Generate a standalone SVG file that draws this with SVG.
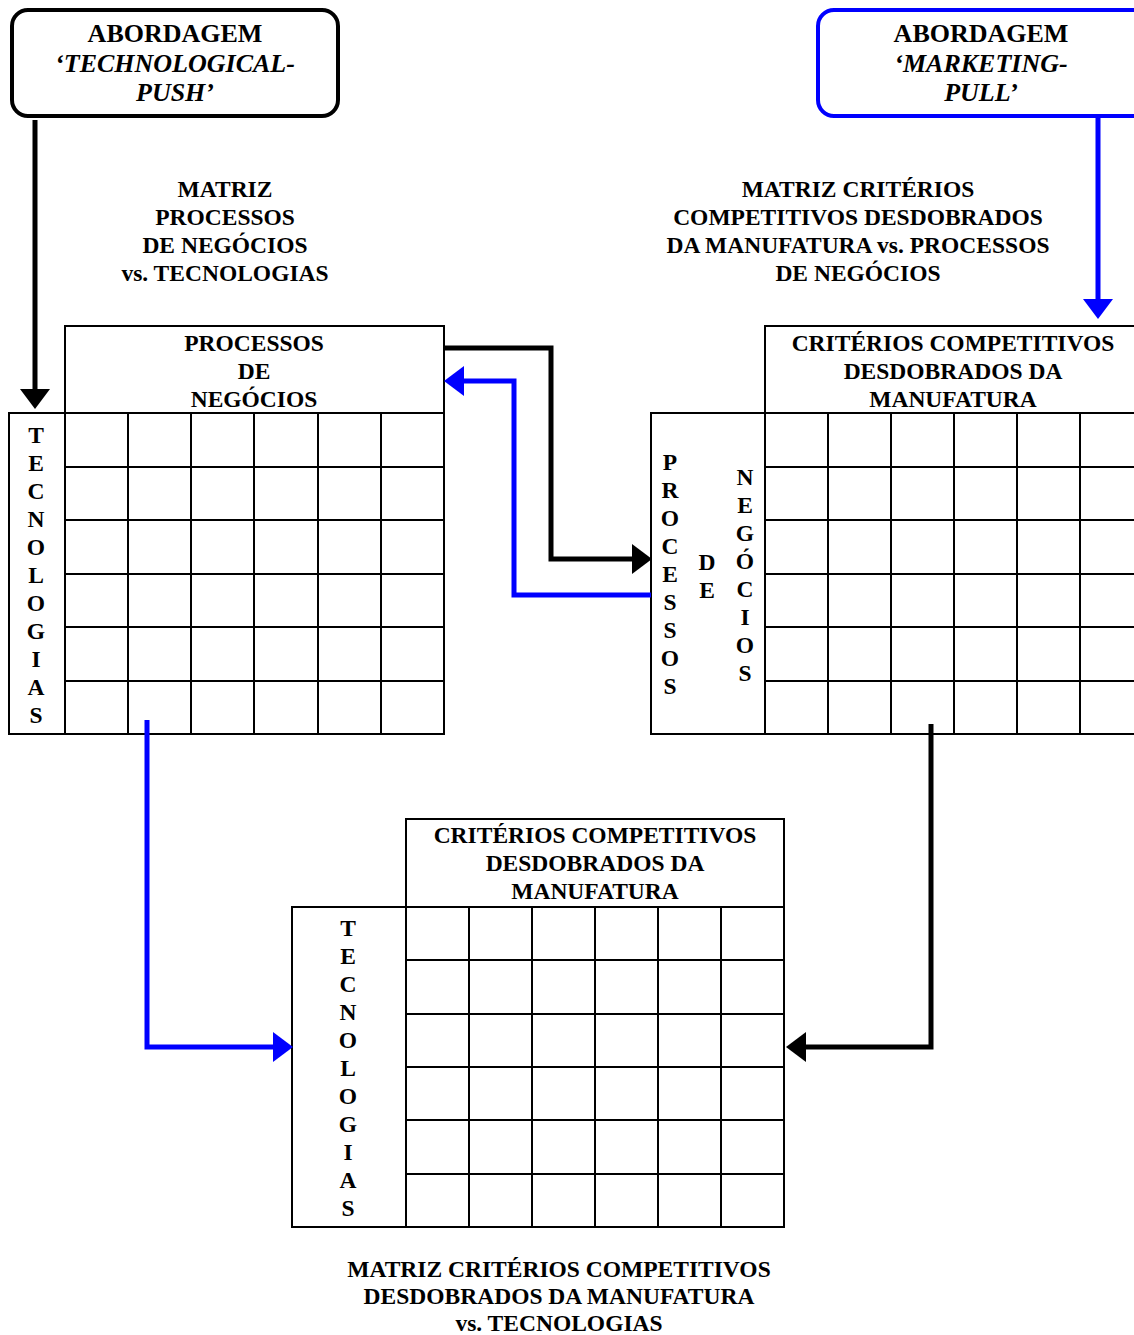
<svg xmlns="http://www.w3.org/2000/svg" width="1134" height="1335" viewBox="0 0 1134 1335">
<style>
text{font-family:"Liberation Serif","Times New Roman",serif;font-weight:bold;fill:#000;text-anchor:middle}
.cap{font-size:23.5px}
.hd{font-size:23.5px}
.vt{font-size:23.5px}
.bx{font-size:26px}
.it{font-style:italic}
.grid{fill:none;stroke:#000;stroke-width:2}
.rb{fill:#fff;stroke:#000;stroke-width:4}
.rbb{fill:#fff;stroke:#0000ff;stroke-width:4}
.ck{fill:none;stroke:#000;stroke-width:5}
.cb{fill:none;stroke:#0000ff;stroke-width:5}
</style>
<defs>
<marker id="ak" markerUnits="userSpaceOnUse" markerWidth="20" markerHeight="30" viewBox="0 0 20 30" refX="0" refY="15" orient="auto"><path d="M0,0 L20,15 L0,30 Z" fill="#000"/></marker>
<marker id="ab" markerUnits="userSpaceOnUse" markerWidth="20" markerHeight="30" viewBox="0 0 20 30" refX="0" refY="15" orient="auto"><path d="M0,0 L20,15 L0,30 Z" fill="#0000ff"/></marker>
</defs>
<rect width="1134" height="1335" fill="#fff"/>

<g id="push">
<rect class="rb" x="12" y="10" width="326" height="106" rx="16"/>
<text class="bx" x="175" y="42">ABORDAGEM</text>
<text class="bx it" x="175" y="72">‘TECHNOLOGICAL-</text>
<text class="bx it" x="175" y="101">PUSH’</text>
</g>

<g id="pull">
<rect class="rbb" x="818" y="10" width="340" height="106" rx="16"/>
<text class="bx" x="981" y="42">ABORDAGEM</text>
<text class="bx it" x="981" y="72">‘MARKETING-</text>
<text class="bx it" x="981" y="101">PULL’</text>
</g>

<g id="caption1">
<text class="cap" x="225" y="197">MATRIZ</text>
<text class="cap" x="225" y="225">PROCESSOS</text>
<text class="cap" x="225" y="253">DE NEGÓCIOS</text>
<text class="cap" x="225" y="281">vs. TECNOLOGIAS</text>
</g>

<g id="caption2">
<text class="cap" x="858" y="197">MATRIZ CRITÉRIOS</text>
<text class="cap" x="858" y="225">COMPETITIVOS DESDOBRADOS</text>
<text class="cap" x="858" y="253">DA MANUFATURA vs. PROCESSOS</text>
<text class="cap" x="858" y="281">DE NEGÓCIOS</text>
</g>

<g id="caption3">
<text class="cap" x="559" y="1277">MATRIZ CRITÉRIOS COMPETITIVOS</text>
<text class="cap" x="559" y="1304">DESDOBRADOS DA MANUFATURA</text>
<text class="cap" x="559" y="1331">vs. TECNOLOGIAS</text>
</g>

<g id="matrix1">
<rect class="grid" x="65" y="326" width="379" height="87"/>
<rect class="grid" x="9" y="413" width="435" height="321"/>
<path class="grid" d="M65,413V734M128,413V734M191,413V734M254,413V734M318,413V734M381,413V734M65,467H444M65,520H444M65,574H444M65,627H444M65,681H444"/>
<text class="hd" x="254" y="351">PROCESSOS</text>
<text class="hd" x="254" y="379">DE</text>
<text class="hd" x="254" y="407">NEGÓCIOS</text>
<text class="vt"><tspan x="36" y="443">T</tspan><tspan x="36" dy="28">E</tspan><tspan x="36" dy="28">C</tspan><tspan x="36" dy="28">N</tspan><tspan x="36" dy="28">O</tspan><tspan x="36" dy="28">L</tspan><tspan x="36" dy="28">O</tspan><tspan x="36" dy="28">G</tspan><tspan x="36" dy="28">I</tspan><tspan x="36" dy="28">A</tspan><tspan x="36" dy="28">S</tspan></text>
</g>

<g id="matrix2">
<rect class="grid" x="765" y="326" width="390" height="87"/>
<rect class="grid" x="651" y="413" width="504" height="321"/>
<path class="grid" d="M765,413V734M828,413V734M891,413V734M954,413V734M1017,413V734M1080,413V734M765,467H1155M765,520H1155M765,574H1155M765,627H1155M765,681H1155"/>
<text class="hd" x="953" y="351">CRITÉRIOS COMPETITIVOS</text>
<text class="hd" x="953" y="379">DESDOBRADOS DA</text>
<text class="hd" x="953" y="407">MANUFATURA</text>
<text class="vt"><tspan x="670" y="470">P</tspan><tspan x="670" dy="28">R</tspan><tspan x="670" dy="28">O</tspan><tspan x="670" dy="28">C</tspan><tspan x="670" dy="28">E</tspan><tspan x="670" dy="28">S</tspan><tspan x="670" dy="28">S</tspan><tspan x="670" dy="28">O</tspan><tspan x="670" dy="28">S</tspan></text>
<text class="vt"><tspan x="707" y="570">D</tspan><tspan x="707" dy="28">E</tspan></text>
<text class="vt"><tspan x="745" y="485">N</tspan><tspan x="745" dy="28">E</tspan><tspan x="745" dy="28">G</tspan><tspan x="745" dy="28">Ó</tspan><tspan x="745" dy="28">C</tspan><tspan x="745" dy="28">I</tspan><tspan x="745" dy="28">O</tspan><tspan x="745" dy="28">S</tspan></text>
</g>

<g id="matrix3">
<rect class="grid" x="406" y="819" width="378" height="88"/>
<rect class="grid" x="292" y="907" width="492" height="320"/>
<path class="grid" d="M406,907V1227M469,907V1227M532,907V1227M595,907V1227M658,907V1227M721,907V1227M406,960H784M406,1014H784M406,1067H784M406,1120H784M406,1174H784"/>
<text class="hd" x="595" y="843">CRITÉRIOS COMPETITIVOS</text>
<text class="hd" x="595" y="871">DESDOBRADOS DA</text>
<text class="hd" x="595" y="899">MANUFATURA</text>
<text class="vt"><tspan x="348" y="936">T</tspan><tspan x="348" dy="28">E</tspan><tspan x="348" dy="28">C</tspan><tspan x="348" dy="28">N</tspan><tspan x="348" dy="28">O</tspan><tspan x="348" dy="28">L</tspan><tspan x="348" dy="28">O</tspan><tspan x="348" dy="28">G</tspan><tspan x="348" dy="28">I</tspan><tspan x="348" dy="28">A</tspan><tspan x="348" dy="28">S</tspan></text>
</g>

<g id="connectors">
<path class="ck" d="M35,120V389" marker-end="url(#ak)"/>
<path class="cb" d="M1098,116V299" marker-end="url(#ab)"/>
<path class="ck" d="M444,348H551V559H632" marker-end="url(#ak)"/>
<path class="cb" d="M651,595H514V381H464" marker-end="url(#ab)"/>
<path class="cb" d="M147,720V1047H273" marker-end="url(#ab)"/>
<path class="ck" d="M931,724V1047H806" marker-end="url(#ak)"/>
</g>
</svg>
